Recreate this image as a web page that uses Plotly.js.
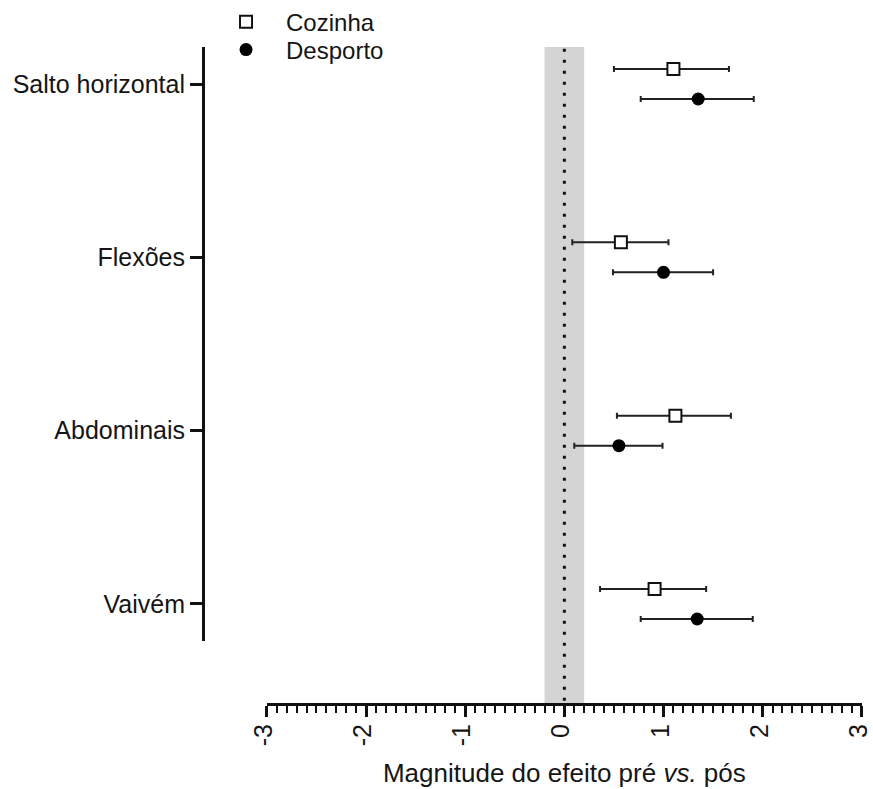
<!DOCTYPE html>
<html>
<head>
<meta charset="utf-8">
<script src="https://cdn.plot.ly/plotly-3.0.1.min.js"></script>
<style>html,body{margin:0;padding:0;background:#fff;}#chart{width:873px;height:789px;}</style>
</head>
<body>
<div id="chart"></div>
<script>
const categories = ['Salto horizontal', 'Flexões', 'Abdominais', 'Vaivém'];
const cozinhaMean = [1.10, 0.57, 1.12, 0.91];
const cozinhaLow  = [0.50, 0.08, 0.53, 0.36];
const cozinhaHigh = [1.66, 1.05, 1.68, 1.43];
const desportoMean = [1.35, 1.00, 0.55, 1.34];
const desportoLow  = [0.77, 0.49, 0.10, 0.77];
const desportoHigh = [1.91, 1.50, 0.99, 1.90];
const xTicks = [-3, -2, -1, 0, 1, 2, 3];
const bandHalfWidth = 0.2;

const FONT = '"Liberation Sans", Arial, Helvetica, sans-serif';
const TXT = '#151515';
const idx = categories.map((c, i) => i);
const OFF = 0.0866;

function errBar(mean, low, high) {
  return {
    type: 'data', symmetric: false,
    array: mean.map((m, i) => high[i] - m),
    arrayminus: mean.map((m, i) => m - low[i]),
    color: '#222', thickness: 2, width: 3
  };
}

const traces = [
  {
    type: 'scatter', mode: 'markers', name: 'Cozinha', legend: 'legend',
    x: cozinhaMean, y: idx.map(i => i - OFF),
    error_x: errBar(cozinhaMean, cozinhaLow, cozinhaHigh),
    marker: {symbol: 'square', size: 12, color: '#fff', line: {color: '#111', width: 2}}
  },
  {
    type: 'scatter', mode: 'markers', name: 'Desporto', legend: 'legend2',
    x: desportoMean, y: idx.map(i => i + OFF),
    error_x: errBar(desportoMean, desportoLow, desportoHigh),
    marker: {symbol: 'circle', size: 13, color: '#000', line: {color: '#000', width: 0}}
  }
];

const legendBase = {
  xanchor: 'left', yanchor: 'middle', itemwidth: 70,
  font: {family: FONT, size: 24, color: TXT}, bgcolor: 'rgba(0,0,0,0)'
};

const layout = {
  width: 873, height: 789,
  margin: {l: 203, r: 11, t: 47, b: 85, autoexpand: false},
  paper_bgcolor: '#fff', plot_bgcolor: 'rgba(0,0,0,0)',
  font: {family: FONT, size: 24, color: TXT},
  showlegend: true,
  legend: Object.assign({x: 0.0046, y: 1.038}, legendBase),
  legend2: Object.assign({x: 0.0046, y: 0.9954}, legendBase),
  xaxis: {
    domain: [0.0967, 1], anchor: 'free', position: 0,
    range: [-3.002, 3.002], tickvals: xTicks, ticktext: xTicks.map(String),
    tickangle: -90, ticks: 'outside', ticklen: 11, tickwidth: 3, tickcolor: '#111',
    ticklabeloverflow: 'allow', ticklabelshift: -3, ticklabelstandoff: -3,
    minor: {dtick: 0.1, ticks: 'outside', ticklen: 7, tickwidth: 2, tickcolor: '#111'},
    showline: true, linewidth: 3, linecolor: '#111',
    showgrid: false, zeroline: false,
    tickfont: {family: FONT, size: 25, color: TXT},
    title: {text: 'Magnitude do efeito pré <i>vs.</i> pós', font: {family: FONT, size: 26, color: TXT}, standoff: 18}
  },
  yaxis: {
    domain: [0.0959, 1], anchor: 'free', position: 0,
    range: [3.2135, -0.2135], tickvals: idx, ticktext: categories,
    ticks: 'outside', ticklen: 12, tickwidth: 3, tickcolor: '#111',
    showline: true, linewidth: 3, linecolor: '#111',
    showgrid: false, zeroline: false,
    tickfont: {family: FONT, size: 25, color: TXT}
  },
  shapes: [
    {type: 'rect', xref: 'x', yref: 'paper', x0: -bandHalfWidth, x1: bandHalfWidth, y0: 0, y1: 1,
     fillcolor: '#d4d4d4', line: {width: 0}, layer: 'below'},
    {type: 'line', xref: 'x', yref: 'paper', x0: 0, x1: 0, y0: 0.005, y1: 1,
     line: {color: '#111', width: 3, dash: '3px,8px'}, layer: 'below'}
  ]
};

Plotly.newPlot('chart', traces, layout, {displayModeBar: false, staticPlot: true});
</script>
</body>
</html>
